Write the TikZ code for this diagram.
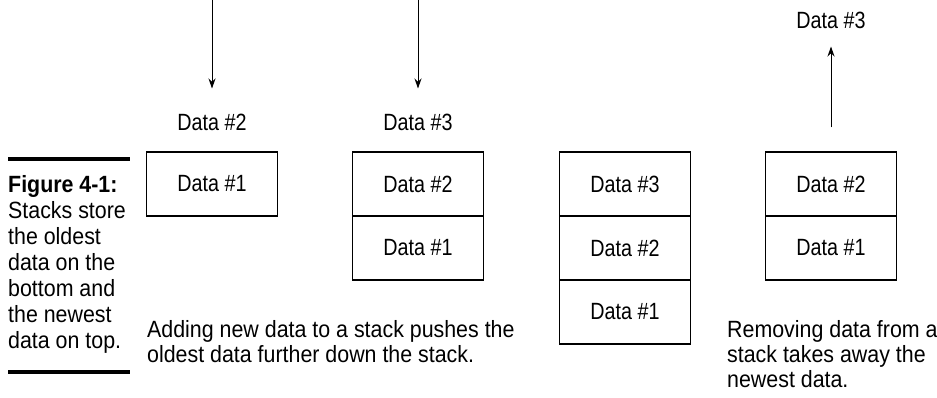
\documentclass[tikz,border=0pt]{standalone}
\usepackage{fontspec}
\setmainfont[FakeStretch=0.91]{Liberation Sans}
\newfontfamily\lblfont[FakeStretch=0.84]{Liberation Sans}
\usetikzlibrary{arrows.meta}
\tikzset{
  cell/.style={draw, line width=1.4pt, minimum width=131pt, minimum height=64pt, inner sep=0pt, font=\lblfont\fontsize{23.5}{25}\selectfont},
  lbl/.style={inner sep=0pt, font=\lblfont\fontsize{23.5}{25}\selectfont},
  captext/.style={inner sep=0pt, align=left, anchor=north west, font=\fontsize{23.5}{25}\selectfont},
  sidetext/.style={inner sep=0pt, align=left, anchor=north west, font=\fontsize{23.5}{26}\selectfont},
  arr/.style={line width=1pt, -{Stealth[length=10pt,width=7pt]}},
  bar/.style={line width=4.5pt}
}
\begin{document}
\begin{tikzpicture}[x=1pt,y=-1pt]
\useasboundingbox (0,0) rectangle (937,397);
% sidebar
\coordinate (b1l) at (8,159); \coordinate (b1r) at (130,159);
\coordinate (b2l) at (8,372); \coordinate (b2r) at (130,372);
\draw[bar] (b1l) -- (b1r);
\draw[bar] (b2l) -- (b2r);
\node[sidetext] (side) at (8,175) {\textbf{Figure 4-1:}\\Stacks store\\the oldest\\data on the\\bottom and\\the newest\\data on top.};
% stack 1
\node[cell] (s1a) at (212,184) {Data \#1};
\node[lbl] (in2) at (212,122) {Data \#2};
\coordinate (t1) at (212,0);
\draw[arr] (t1) -- ([yshift=25pt]in2.north);
% stack 2
\node[cell] (s2b) at (418,184) {Data \#2};
\node[cell] (s2a) at (418,248) {Data \#1};
\node[lbl] (in3) at (418,122) {Data \#3};
\coordinate (t2) at (418,0);
\draw[arr] (t2) -- ([yshift=25pt]in3.north);
% stack 3
\node[cell] (s3c) at (625,184) {Data \#3};
\node[cell] (s3b) at (625,248) {Data \#2};
\node[cell] (s3a) at (625,312) {Data \#1};
% stack 4
\node[cell] (s4b) at (831,184) {Data \#2};
\node[cell] (s4a) at (831,248) {Data \#1};
\node[lbl] (out3) at (831,20) {Data \#3};
\draw[arr] ([yshift=24pt]s4b.north) -- ([yshift=-18pt]out3.south);
% captions
\node[captext] (c1) at (147,320) {Adding new data to a stack pushes the\\oldest data further down the stack.};
\node[captext] (c2) at (727,320) {Removing data from a\\stack takes away the\\newest data.};
\end{tikzpicture}
\end{document}
